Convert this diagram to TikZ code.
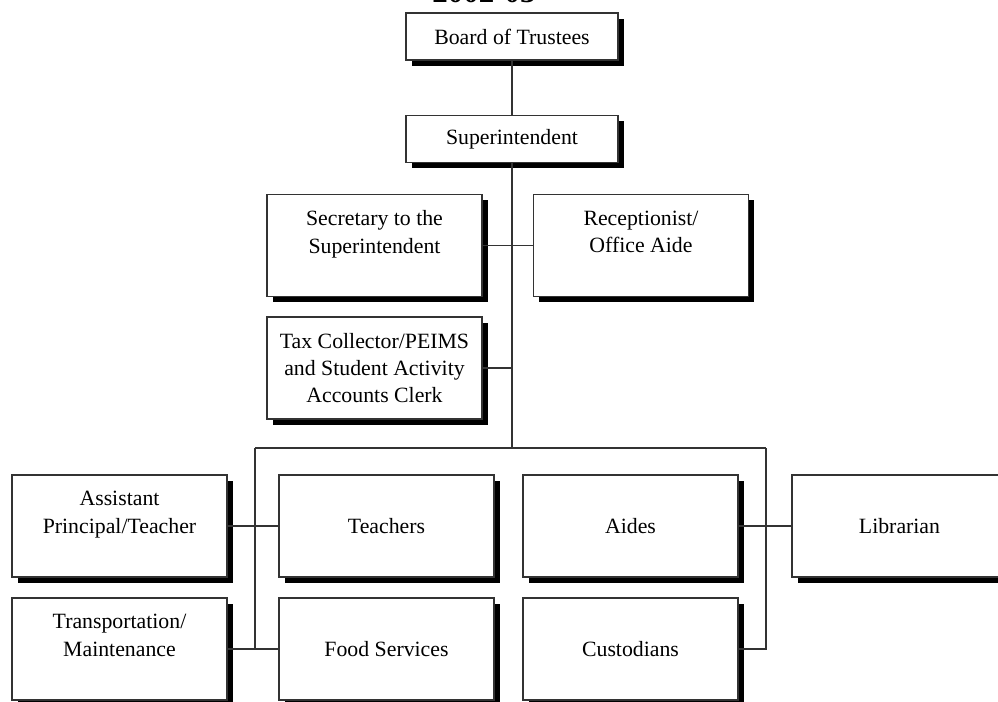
\documentclass[tikz,border=0pt]{standalone}
\usepackage{fontspec}
\setmainfont{Liberation Serif}
\usetikzlibrary{shadows}
\tikzset{
  post/.style={draw=black!80, line width=1.1pt, fill=white, align=center,
    font=\fontsize{15.5}{19.5}\selectfont, inner sep=2pt,
    drop shadow={shadow xshift=0.14cm, shadow yshift=-0.14cm, fill=black, opacity=1},
    minimum width=5.375cm, minimum height=2.55cm},
  head/.style={post, minimum width=5.3cm, minimum height=1.175cm},
  wire/.style={draw=black!80, line width=1.1pt}
}
\begin{document}
\begin{tikzpicture}[x=0.025cm, y=-0.025cm]
  \useasboundingbox (0,0) rectangle (998,702);
  \node[font=\bfseries\fontsize{22}{22}\selectfont, anchor=base] (yr) at (484,3) {2002-03};
  \path
    (512,36.5) node[head] (bt){Board of Trustees}
    (512,139) node[head] (sup){Superintendent}
    (374.5,245.5) node[post] (sec){Secretary to the\\Superintendent\\~}
    (641,245.5) node[post] (rec){Receptionist/\\Office Aide\\~}
    (374.5,368) node[post] (tax){Tax Collector/PEIMS\\and Student Activity\\Accounts Clerk}
    (119.5,526) node[post] (ap){Assistant\\Principal/Teacher\\~}
    (386.5,526) node[post] (tea){Teachers}
    (630.5,526) node[post] (aid){Aides}
    (899.5,526) node[post] (lib){Librarian}
    (119.5,649) node[post] (tr){Transportation/\\Maintenance\\~}
    (386.5,649) node[post] (fs){Food Services}
    (630.5,649) node[post] (cus){Custodians};
  \coordinate (bar) at (512,448);
  \coordinate (barl) at (255,448);
  \coordinate (barr) at (766,448);
  \begin{scope}[wire]
    \draw (bt) to (sup);
    \draw (sup) to (bar);
    \draw (sec) to (rec);
    \draw (tax) to (tax -| bar);
    \draw (barl) to (barr);
    \draw (barl) to (barl |- tr.east);
    \draw (barr) -- (barr |- cus.east) -- (cus.east);
    \draw (ap) to (tea);
    \draw (tr) to (fs);
    \draw (aid) to (lib);
  \end{scope}
\end{tikzpicture}
\end{document}
